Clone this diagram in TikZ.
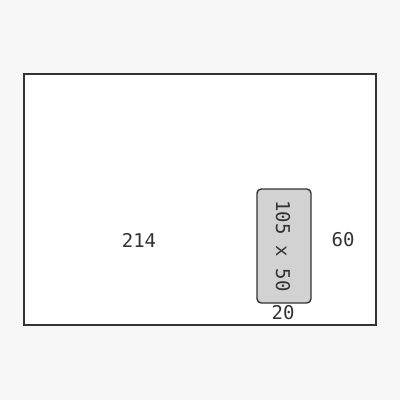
\documentclass[tikz,border=0pt]{standalone}
\usepackage{fontspec}
\setmonofont{DejaVu Sans Mono}
\usepackage{xcolor}
\definecolor{envline}{HTML}{333333}
\definecolor{envbg}{HTML}{F7F7F7}
\definecolor{winfill}{HTML}{D2D2D2}
\begin{document}
\begin{tikzpicture}[x=0.025cm, y=-0.025cm,
		dim/.style={font=\ttfamily\fontsize{13.5}{16}\selectfont, text=envline, inner sep=0pt}]
			\def\w{352};
			\def\h{251};

			\fill[envbg] (0,0) rectangle (400,400);
			\useasboundingbox (0,0) rectangle (400,400);

			\draw[envline, line width=1.1pt, fill=white] (24,74) rectangle ++(\w,\h);
			\draw[envline, line width=1pt, fill=winfill, rounded corners=3] (257,189) rectangle (311,303);

			\node[dim] (left) at (139,240) {214};
			\node[dim] (right) at (343,240) {60};
			\node[dim] (bottom) at (283,313) {20};
			\node[dim, rotate=-90] (window) at (283,246) {105 x 50};
		\end{tikzpicture}
\end{document}
